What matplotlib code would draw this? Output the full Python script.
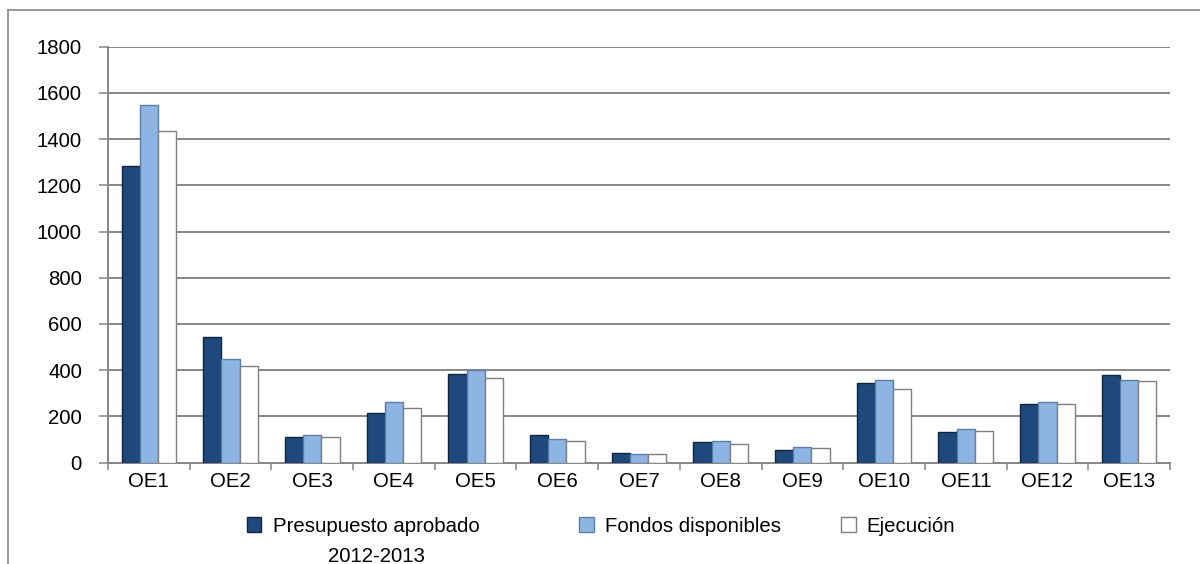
import matplotlib
matplotlib.use("Agg")
import matplotlib.pyplot as plt
import numpy as np
from matplotlib.lines import Line2D
from matplotlib.patches import Rectangle

plt.rcParams['font.family'] = ['Liberation Sans', 'DejaVu Sans']

categories = ["OE1", "OE2", "OE3", "OE4", "OE5", "OE6", "OE7",
              "OE8", "OE9", "OE10", "OE11", "OE12", "OE13"]
presupuesto = [1282, 542, 112, 216, 381, 121, 40, 87, 52, 346, 134, 255, 377]
fondos = [1549, 448, 118, 264, 402, 101, 37, 91, 65, 355, 147, 261, 359]
ejecucion = [1435, 416, 111, 235, 364, 95, 35, 82, 61, 320, 138, 255, 352]
series_names = ["Presupuesto aprobado\n2012-2013", "Fondos disponibles", "Ejecución"]
y_ticks = [0, 200, 400, 600, 800, 1000, 1200, 1400, 1600, 1800]

W, H = 1200, 564
fig = plt.figure(figsize=(W / 100, H / 100), dpi=100)
fig.patch.set_facecolor("white")

def fx(px):
    return px / W

def fy(py):
    return 1 - py / H

ax = fig.add_axes([fx(108), fy(462.5), fx(1170) - fx(108), fy(46.7) - fy(462.5)])

fills = ["#1F497D", "#8EB4E3", "#FFFFFF"]
edges = ["#0E2440", "#5A7DA6", "#7F7F7F"]
values = [presupuesto, fondos, ejecucion]
x = np.arange(len(categories))
bw = 0.223
for k, (vals, fc, ec) in enumerate(zip(values, fills, edges)):
    ax.bar(x + (k - 1) * bw, vals, width=bw, color=fc, edgecolor=ec,
           linewidth=1.0, zorder=3)

grid_c = "#868686"
ax.set_ylim(0, 1800)
ax.set_xlim(-0.5, len(categories) - 0.5)
ax.set_yticks(y_ticks)
ax.set_yticklabels([str(v) for v in y_ticks])
ax.yaxis.grid(True, color=grid_c, linewidth=1.4, zorder=0)
ax.set_axisbelow(True)

ax.set_xticks(x)
ax.set_xticklabels(categories)
ax.set_xticks(np.arange(-0.5, len(categories)), minor=True)
ax.tick_params(axis="x", which="major", length=0, pad=7, labelsize=14.7)
ax.tick_params(axis="x", which="minor", length=5.2, width=1.1, color=grid_c,
               direction="out")
ax.tick_params(axis="y", length=6.3, width=1.1, color=grid_c, pad=12.5,
               labelsize=14.7, direction="out")

for side in ["top", "right"]:
    ax.spines[side].set_visible(False)
for side in ["left", "bottom"]:
    ax.spines[side].set_color(grid_c)
    ax.spines[side].set_linewidth(1.4)

# chart frame
fig.add_artist(Line2D([fx(8), fx(8)], [fy(10), -0.05], color=grid_c,
                      linewidth=1.2, transform=fig.transFigure))
fig.add_artist(Line2D([fx(8), 1.05], [fy(10), fy(10)], color=grid_c,
                      linewidth=1.2, transform=fig.transFigure))

# legend
sq = 14.5
items = [(246.7, 273.3), (579.3, 605.0), (841.0, 866.7)]
for (sx, tx), name, fc, ec in zip(items, series_names, fills, edges):
    fig.add_artist(Rectangle((fx(sx), fy(517 + sq)), sq / W, sq / H,
                             facecolor=fc, edgecolor=ec if fc != "#FFFFFF" else "#7F7F7F",
                             linewidth=1.0, transform=fig.transFigure))
    lines = name.split("\n")
    t = fig.text(fx(tx), fy(532), lines[0], ha="left", va="baseline",
                 fontsize=14.7, color="black")
    if len(lines) > 1:
        fig.canvas.draw()
        bb = t.get_window_extent()
        cx = (bb.x0 + bb.x1) / 2 / W
        fig.text(cx, fy(561.5), lines[1], ha="center", va="baseline",
                 fontsize=14.7, color="black")

fig.savefig("out.png", dpi=100, facecolor="white")
